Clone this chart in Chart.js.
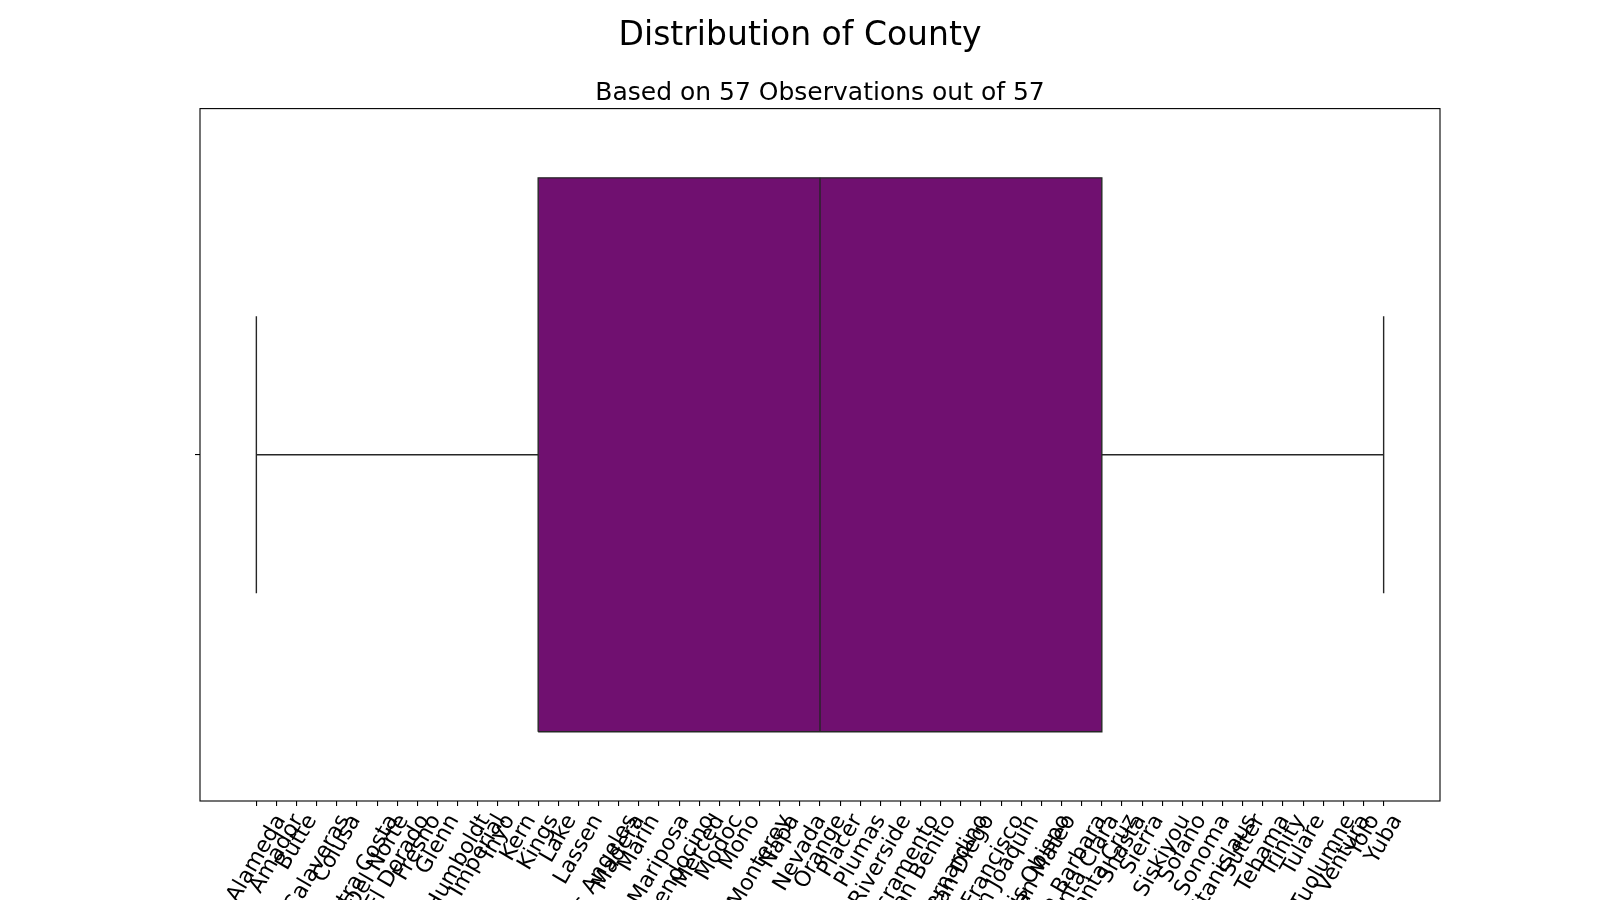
<!DOCTYPE html>
<html>
<head>
<meta charset="utf-8">
<script src="https://cdn.jsdelivr.net/npm/chart.js@4/dist/chart.umd.min.js"></script>
<style>
  html, body { margin: 0; padding: 0; background: #fff; }
  #wrap { width: 1600px; height: 900px; }
</style>
</head>
<body>
<div id="wrap"><canvas id="boxChart" width="1600" height="900"></canvas></div>
<script>
const counties = [
  "Alameda", "Amador", "Butte", "Calaveras", "Colusa", "Contra Costa", "Del Norte",
  "El Dorado", "Fresno", "Glenn", "Humboldt", "Imperial", "Inyo", "Kern", "Kings",
  "Lake", "Lassen", "Los Angeles", "Madera", "Marin", "Mariposa", "Mendocino",
  "Merced", "Modoc", "Mono", "Monterey", "Napa", "Nevada", "Orange", "Placer",
  "Plumas", "Riverside", "Sacramento", "San Benito", "San Bernardino", "San Diego",
  "San Francisco", "San Joaquin", "San Luis Obispo", "San Mateo", "Santa Barbara",
  "Santa Clara", "Santa Cruz", "Shasta", "Sierra", "Siskiyou", "Solano", "Sonoma",
  "Stanislaus", "Sutter", "Tehama", "Trinity", "Tulare", "Tuolumne", "Ventura",
  "Yolo", "Yuba"
];
// box plot summary, as positions on the county axis
const statNames = ["min", "q1", "median", "q3", "max"];
const statValues = [0, 14, 28, 42, 56];

const BOX_HALF = 0.4;
const CAP_HALF = 0.2;
const LINE = "#262626";
const FILL = "#701070";

const stat = (name) => statValues[statNames.indexOf(name)];
const lo = stat("min"), q1 = stat("q1"), med = stat("median"), q3 = stat("q3"), hi = stat("max");

function seg(points, extra) {
  return Object.assign({
    data: points.map(([x, y]) => ({ x, y })),
    borderColor: LINE,
    borderWidth: 1.4,
    pointRadius: 0,
    fill: false,
    tension: 0,
  }, extra || {});
}

// matplotlib centres a rotated label's box on the tick; chart.js pins the label end.
// shift each x label by a quarter of its own width to get the same look
const centerRotatedLabels = {
  id: "centerRotatedLabels",
  beforeDraw(chart) {
    const scale = chart.scales.x;
    const items = scale.getLabelItems(chart.chartArea);
    if (items._shifted) return;
    const ctx = chart.ctx;
    ctx.save();
    items.forEach((it) => {
      ctx.font = it.font.string;
      const w = ctx.measureText(it.label).width;
      it.options.translation[0] += w / 4 + 0.5;
    });
    ctx.restore();
    items._shifted = true;
  },
};

const frame = {
  id: "frame",
  afterDraw(chart) {
    const { ctx, chartArea: a } = chart;
    ctx.save();
    ctx.strokeStyle = "#000";
    ctx.lineWidth = 1.1;
    ctx.strokeRect(a.left, a.top, a.right - a.left, a.bottom - a.top);
    ctx.restore();
  },
};

Chart.defaults.font.family = "'DejaVu Sans', sans-serif";
Chart.defaults.color = "#000";

new Chart(document.getElementById("boxChart"), {
  type: "line",
  data: {
    datasets: [
      seg([[q1, -BOX_HALF], [q3, -BOX_HALF], [q3, BOX_HALF], [q1, BOX_HALF], [q1, -BOX_HALF]], { order: 1 }),
      seg([[med, -BOX_HALF], [med, BOX_HALF]], { order: 1 }),
      seg([[lo, 0], [q1, 0]], { order: 1 }),
      seg([[q3, 0], [hi, 0]], { order: 1 }),
      seg([[lo, -CAP_HALF], [lo, CAP_HALF]], { order: 1 }),
      seg([[hi, -CAP_HALF], [hi, CAP_HALF]], { order: 1 }),
      seg([[q1, BOX_HALF], [q3, BOX_HALF]], { order: 5, fill: "+1", backgroundColor: FILL, borderWidth: 0 }),
      seg([[q1, -BOX_HALF], [q3, -BOX_HALF]], { order: 6, borderWidth: 0 }),
    ],
  },
  options: {
    responsive: false,
    animation: false,
    layout: { padding: 0 },
    plugins: {
      legend: { display: false },
      tooltip: { enabled: false },
      title: {
        display: true,
        text: "Distribution of County",
        font: { size: 33, weight: "normal" },
        color: "#000",
        padding: { top: 17, bottom: 0 },
      },
      subtitle: {
        display: true,
        text: "Based on 57 Observations out of 57",
        font: { size: 25, weight: "normal" },
        color: "#000",
        fullSize: false,
        padding: { top: 22, bottom: 0 },
      },
    },
    scales: {
      x: {
        type: "linear",
        min: -2.8,
        max: 58.8,
        afterBuildTicks: (scale) => {
          scale.ticks = counties.map((_, i) => ({ value: i }));
        },
        afterFit: (scale) => { scale.height = 99; },
        ticks: {
          autoSkip: false,
          minRotation: 60,
          maxRotation: 60,
          labelOffset: 0,
          padding: 4,
          font: { size: 22 },
          color: "#000",
          callback: (v) => counties[v],
        },
        grid: { display: true, drawOnChartArea: false, drawTicks: true, tickLength: 5, color: "#000", lineWidth: 1.1 },
        border: { display: false },
      },
      y: {
        type: "linear",
        min: -0.5,
        max: 0.5,
        afterBuildTicks: (scale) => { scale.ticks = [{ value: 0 }]; },
        afterFit: (scale) => { scale.width = 200; },
        ticks: { callback: () => "", padding: 0 },
        grid: { display: true, drawOnChartArea: false, drawTicks: true, tickLength: 5, color: "#000", lineWidth: 1.1 },
        border: { display: false },
      },
      // empty right-hand margin so the figure title stays centred on the canvas
      rightMargin: {
        type: "linear",
        position: "right",
        display: true,
        afterFit: (scale) => { scale.width = 160; },
        ticks: { display: false },
        grid: { display: false },
        border: { display: false },
      },
    },
  },
  plugins: [centerRotatedLabels, frame],
});
</script>
</body>
</html>
